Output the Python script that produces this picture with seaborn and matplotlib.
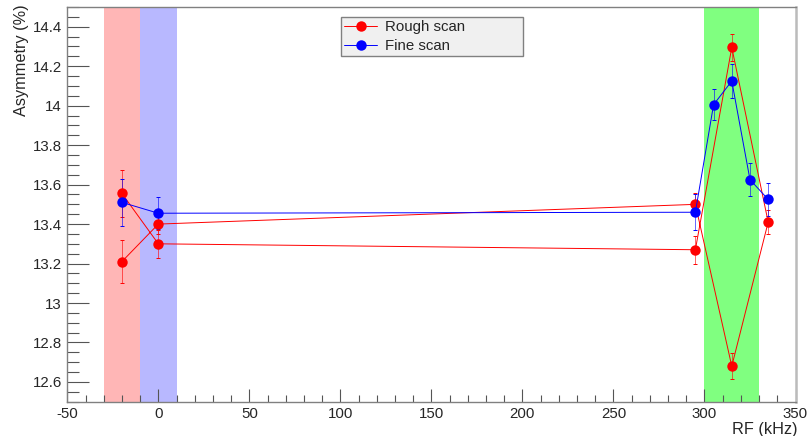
import numpy as np
import pandas as pd
import matplotlib
matplotlib.use("Agg")
import matplotlib.pyplot as plt
from matplotlib.ticker import MultipleLocator, FormatStrFormatter
import seaborn as sns

# ---- data ----
rough_x = [-20, 0, 295, 315, 335, 315, 295, 0, -20]
rough_y = [13.21, 13.40, 13.50, 12.68, 13.41, 14.295, 13.27, 13.30, 13.555]
rough_err = [0.11, 0.05, 0.06, 0.065, 0.06, 0.07, 0.07, 0.07, 0.12]

fine_x = [-20, 0, 295, 305, 315, 325, 335]
fine_y = [13.51, 13.455, 13.46, 14.005, 14.125, 13.625, 13.525]
fine_err = [0.12, 0.08, 0.09, 0.08, 0.085, 0.085, 0.085]

bands = [(-30, -10, "#FFB6B6"), (-10, 10, "#B8B8FF"), (300, 330, "#80FF80")]

series_names = ["Rough scan", "Fine scan"]
series_colors = {"Rough scan": "#FF0000", "Fine scan": "#0000FF"}

df = pd.concat([
    pd.DataFrame({"x": rough_x, "y": rough_y, "err": rough_err, "series": "Rough scan"}),
    pd.DataFrame({"x": fine_x, "y": fine_y, "err": fine_err, "series": "Fine scan"}),
], ignore_index=True)

sns.set_theme(style="ticks")
plt.rcParams["font.family"] = ["Liberation Sans", "DejaVu Sans"]

W, H = 811, 436
fig = plt.figure(figsize=(W / 100, H / 100), dpi=100)
L, R, T, B = 67.3, 795.5, 7, 401.7
ax = fig.add_axes([L / W, 1 - B / H, (R - L) / W, (B - T) / H])

for x0, x1, c in bands:
    ax.axvspan(x0, x1, color=c, lw=0, zorder=0)

for name in series_names:
    sub = df[df["series"] == name]
    ax.errorbar(sub["x"], sub["y"], yerr=sub["err"], fmt="none",
                ecolor=series_colors[name], elinewidth=0.7, capsize=1.2,
                capthick=0.7, alpha=0.6, zorder=2)

sns.lineplot(data=df, x="x", y="y", hue="series", hue_order=series_names,
             palette=series_colors, units="series", estimator=None, sort=False,
             marker="o", markersize=7.5, markeredgewidth=0, linewidth=0.7,
             ax=ax, zorder=3)
for ln in ax.lines:
    ln.set_alpha(1.0)

ax.set_xlim(-50, 350)
ax.set_ylim(12.5, 14.5)
ax.xaxis.set_major_locator(MultipleLocator(50))
ax.xaxis.set_minor_locator(MultipleLocator(10))
ax.yaxis.set_major_locator(MultipleLocator(0.2))
ax.yaxis.set_minor_locator(MultipleLocator(0.05))
ax.yaxis.set_major_formatter(FormatStrFormatter("%g"))
ax.xaxis.set_major_formatter(FormatStrFormatter("%g"))

tc = "#555555"
ax.tick_params(axis="y", which="major", direction="in", length=15.8, width=0.8,
               color=tc, labelsize=10.8, pad=4, left=True, right=False)
ax.tick_params(axis="y", which="minor", direction="in", length=8.6, width=0.8,
               color=tc, left=True, right=False)
ax.tick_params(axis="x", which="major", direction="in", length=9.4, width=0.8,
               color=tc, labelsize=10.8, pad=4, bottom=True, top=False)
ax.tick_params(axis="x", which="minor", direction="in", length=5, width=0.8,
               color=tc, bottom=True, top=False)

for side, sp in ax.spines.items():
    sp.set_visible(True)
    sp.set_color("#808080")
    sp.set_linewidth(1.0)
ax.spines["right"].set_color("#BBBBBB")
ax.spines["right"].set_linewidth(1.8)

ax.set_xlabel("")
ax.set_ylabel("")
fig.text(22 / W, 1 - 4 / H, "Asymmetry (%)", rotation=90, ha="center", va="top", fontsize=11.7)
fig.text(797 / W, 1 - 429 / H, "RF (kHz)", ha="right", va="center", fontsize=11.7)

handles, labels = ax.get_legend_handles_labels()
lx0 = (341 - L) / (R - L)
lx1 = (523 - L) / (R - L)
ly1 = (B - 17) / (B - T)
ly0 = (B - 56) / (B - T)
leg = ax.legend(handles, labels, loc="upper left",
                bbox_to_anchor=(lx0, ly0, lx1 - lx0, ly1 - ly0), mode="expand",
                frameon=True, fancybox=False, fontsize=10.8, framealpha=1,
                edgecolor="#808080", facecolor="#F0F0F0", borderpad=0.2,
                handlelength=2.2, handletextpad=0.5, labelspacing=0.35,
                borderaxespad=0)
leg.get_frame().set_linewidth(1.0)
for h in leg.legend_handles:
    h.set_linewidth(0.7)
    h.set_markersize(7.5)

fig.savefig("out.png", dpi=100)
